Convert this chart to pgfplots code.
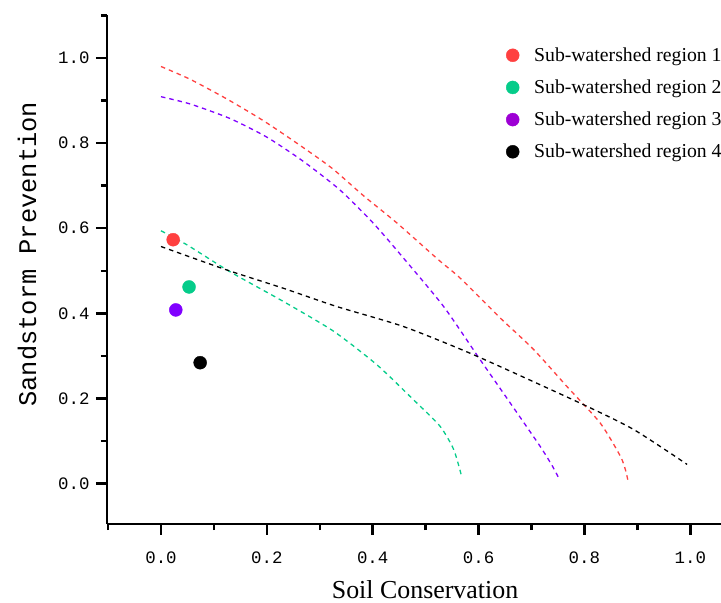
\documentclass[border=0pt]{standalone}
\usepackage{fontspec}
\setmainfont{Liberation Serif}
\setmonofont{Liberation Mono}
\usepackage{pgfplots}
\pgfplotsset{compat=1.18}
\usetikzlibrary{calc}
\definecolor{reg1}{HTML}{FF4040}
\definecolor{reg2}{HTML}{05CC8A}
\definecolor{reg3}{HTML}{8000FF}
\definecolor{reg3leg}{HTML}{9D00D4}
\definecolor{reg4}{HTML}{000000}

\begin{document}
\begin{tikzpicture}
\begin{axis}[
  scale only axis,
  width=614bp, height=509bp,
  xmin=-0.102, xmax=1.058,
  ymin=-0.095, ymax=1.101,
  axis x line*=bottom, axis y line*=left,
  axis line style={line width=2.7bp,-},
  tick align=outside,
  major tick length=11bp, minor tick length=6bp,
  every tick/.style={line width=2.5bp,black},
  xtick={0,0.2,0.4,0.6,0.8,1.0},
  ytick={0,0.2,0.4,0.6,0.8,1.0},
  minor xtick={-0.1,0.1,0.3,0.5,0.7,0.9},
  minor ytick={0.1,0.3,0.5,0.7,0.9,1.1},
  tick label style={font=\ttfamily\fontsize{17.5}{20}\selectfont},
  /pgf/number format/assume math mode=true,
  /pgf/number format/fixed,
  /pgf/number format/fixed zerofill,
  /pgf/number format/precision=1,
  xticklabel style={yshift=-13bp},
  yticklabel style={xshift=-3bp},
  xlabel={Soil Conservation},
  xlabel style={font=\fontsize{26}{30}\selectfont, inner sep=1bp,
    at={(axis description cs:0.518,0)}, anchor=base, yshift=-74bp},
  ylabel={Sandstorm Prevention},
  ylabel style={font=\ttfamily\fontsize{25.5}{30}\selectfont,
    at={(axis description cs:-0.130,0.53)}, anchor=center},
  legend image code/.code={\draw[#1] plot coordinates {(0.25cm,0cm)};
    \path (0.93cm,0cm);},
  legend cell align=left,
  legend style={at={(axis description cs:0.645,0.944)}, anchor=north west,
    draw=none, fill=none, font=\fontsize{19.8}{23}\selectfont,
    row sep=13bp},
  clip=false,
]
% scatter points (legend)
\addplot[only marks, mark=*, mark size=6.5bp, color=reg1]
  coordinates {(0.023,0.573)};
\addlegendentry{Sub-watershed region 1}
\addplot[only marks, mark=*, mark size=6.5bp, color=reg2]
  coordinates {(0.053,0.462)};
\addlegendentry{Sub-watershed region 2}
\addplot[only marks, mark=*, mark size=6.5bp, color=reg3,
  legend image post style={draw=reg3leg,fill=reg3leg}]
  coordinates {(0.028,0.408)};
\addlegendentry{Sub-watershed region 3}
\addplot[only marks, mark=*, mark size=6.5bp, color=reg4]
  coordinates {(0.074,0.284)};
\addlegendentry{Sub-watershed region 4}

% frontier curves
\addplot[forget plot, reg1, line width=1.3bp, dash pattern=on 4.5bp off 4bp,
  smooth, tension=0.4]
  coordinates {(0,0.980)(0.055,0.950)(0.124,0.904)(0.193,0.853)(0.260,0.797)
    (0.323,0.741)(0.382,0.677)(0.446,0.612)(0.524,0.526)(0.565,0.483)
    (0.641,0.389)(0.704,0.315)(0.767,0.228)(0.830,0.142)(0.868,0.064)
    (0.878,0.030)(0.883,0.002)};
\addplot[forget plot, reg2, line width=1.3bp, dash pattern=on 4.5bp off 4bp,
  smooth, tension=0.4]
  coordinates {(0,0.594)(0.049,0.561)(0.130,0.498)(0.231,0.428)(0.326,0.358)
    (0.408,0.279)(0.477,0.197)(0.527,0.135)(0.553,0.080)(0.568,0.017)};
\addplot[forget plot, reg3, line width=1.3bp, dash pattern=on 4.5bp off 4bp,
  smooth, tension=0.4]
  coordinates {(0,0.909)(0.055,0.892)(0.130,0.858)(0.200,0.814)(0.269,0.757)
    (0.338,0.690)(0.401,0.612)(0.458,0.530)(0.534,0.416)(0.603,0.291)
    (0.660,0.189)(0.716,0.088)(0.740,0.040)(0.753,0.009)};
\addplot[forget plot, reg4, line width=1.3bp, dash pattern=on 4.5bp off 4bp,
  smooth, tension=0.4]
  coordinates {(0,0.557)(0.124,0.502)(0.231,0.459)(0.332,0.416)(0.458,0.369)
    (0.590,0.303)(0.792,0.189)(0.893,0.127)(0.994,0.045)};

\coordinate (sw) at (rel axis cs:0,0);
\coordinate (ne) at (rel axis cs:1,1);
\end{axis}
\pgfresetboundingbox
\path[use as bounding box] ($(sw)+(-107bp,-79bp)$) rectangle ($(ne)+(0bp,15bp)$);
\end{tikzpicture}
\end{document}
